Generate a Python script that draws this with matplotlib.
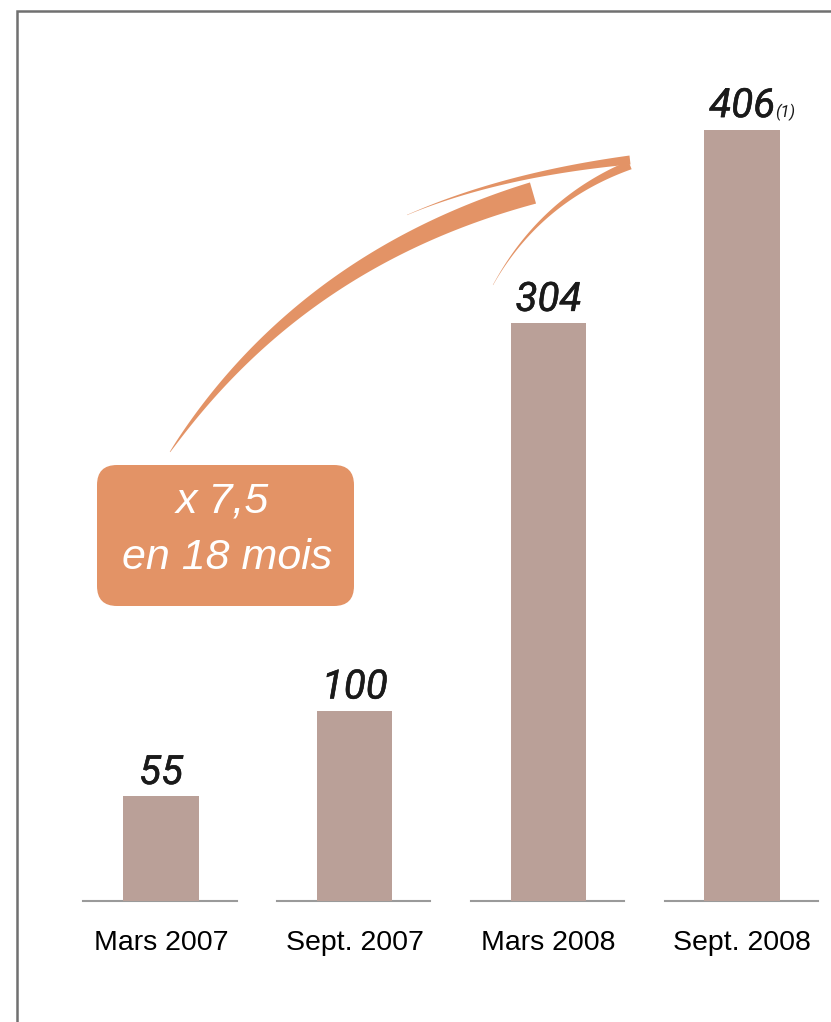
import numpy as np
import matplotlib.pyplot as plt
import matplotlib.patheffects as pe
from matplotlib.patches import FancyBboxPatch, Polygon

# données
categories = ["Mars 2007", "Sept. 2007", "Mars 2008", "Sept. 2008"]
values = [55, 100, 304, 406]
value_labels = ["55", "100", "304", "406"]
note = "(1)"
box_lines = ["x 7,5", "en 18 mois"]

bar_color = "#BAA098"
orange = "#E39366"
num_font = ["Roboto", "DejaVu Sans"]
lab_font = ["Liberation Sans", "DejaVu Sans"]
thicker = [pe.withStroke(linewidth=0.4, foreground="#1a1a1a")]

W, H = 831, 1022
fig = plt.figure(figsize=(W / 100, H / 100), dpi=100)

# axes des barres : toute la figure
ax = fig.add_axes([0, 0, 1, 1])
ax.set_xlim(-0.831, 3.459)
ax.set_ylim(-63.7, 474.2)
ax.axis("off")

x = np.arange(len(values))
ax.bar(x, values, width=0.39, color=bar_color, zorder=2)
for i in x:
    ax.plot([i - 0.40, i + 0.39], [0, 0], color="#9a9a9a", lw=1.5, zorder=1)

# valeurs au-dessus des barres
for i, (v, lab) in enumerate(zip(values, value_labels)):
    ax.annotate(lab, (i, v), xytext=(0, 9), textcoords="offset points",
                ha="center", va="baseline", fontsize=29, style="italic",
                family=num_font, color="#1a1a1a", path_effects=thicker)
    if i == len(values) - 1:
        ax.annotate(note, (i + 0.17, v), xytext=(0, 9), textcoords="offset points",
                    ha="left", va="baseline", fontsize=12, style="italic",
                    family=num_font, color="#1a1a1a")

# étiquettes des catégories
for i, c in enumerate(categories):
    ax.annotate(c, (i, 0), xytext=(0, -30), textcoords="offset points",
                ha="center", va="center", fontsize=20.5, family=lab_font, color="black")

# calque en pixels pour le cadre, la flèche et l'encadré
ov = fig.add_axes([0, 0, 1, 1], facecolor="none")
ov.set_xlim(0, W)
ov.set_ylim(H, 0)
ov.axis("off")

ov.plot([17, 17, W + 5], [H + 5, 11, 11], color="#707070", lw=1.8,
        solid_joinstyle="miter", clip_on=False)


def stroke(p0, p1, p2, w0, w1, n=80, power=1.0):
    t = np.linspace(0, 1, n)[:, None]
    p0, p1, p2 = map(np.asarray, (p0, p1, p2))
    pts = (1 - t) ** 2 * p0 + 2 * (1 - t) * t * p1 + t ** 2 * p2
    d = 2 * (1 - t) * (p1 - p0) + 2 * t * (p2 - p1)
    nrm = np.column_stack([-d[:, 1], d[:, 0]])
    nrm /= np.linalg.norm(nrm, axis=1)[:, None]
    w = (w0 + (w1 - w0) * t[:, 0] ** power)[:, None] / 2
    poly = np.vstack([pts + nrm * w, (pts - nrm * w)[::-1]])
    ov.add_patch(Polygon(poly, closed=True, color=orange, lw=0))


stroke((170, 452), (300, 260), (533, 193), 0.5, 22, power=0.8)
stroke((407, 215), (500, 175), (630, 160), 0.3, 9, power=1.3)
stroke((493, 285), (540, 200), (630, 165), 0.3, 9, power=1.3)

box = FancyBboxPatch((115, 483), 221, 105, boxstyle="round,pad=18,rounding_size=20",
                     fc=orange, ec="none")
ov.add_patch(box)
ov.text(222, 502, box_lines[0], ha="center", va="center", fontsize=31,
        style="italic", color="white", family=lab_font)
ov.text(227, 558, box_lines[1], ha="center", va="center", fontsize=31,
        style="italic", color="white", family=lab_font)

fig.savefig("out.png", dpi=100)
